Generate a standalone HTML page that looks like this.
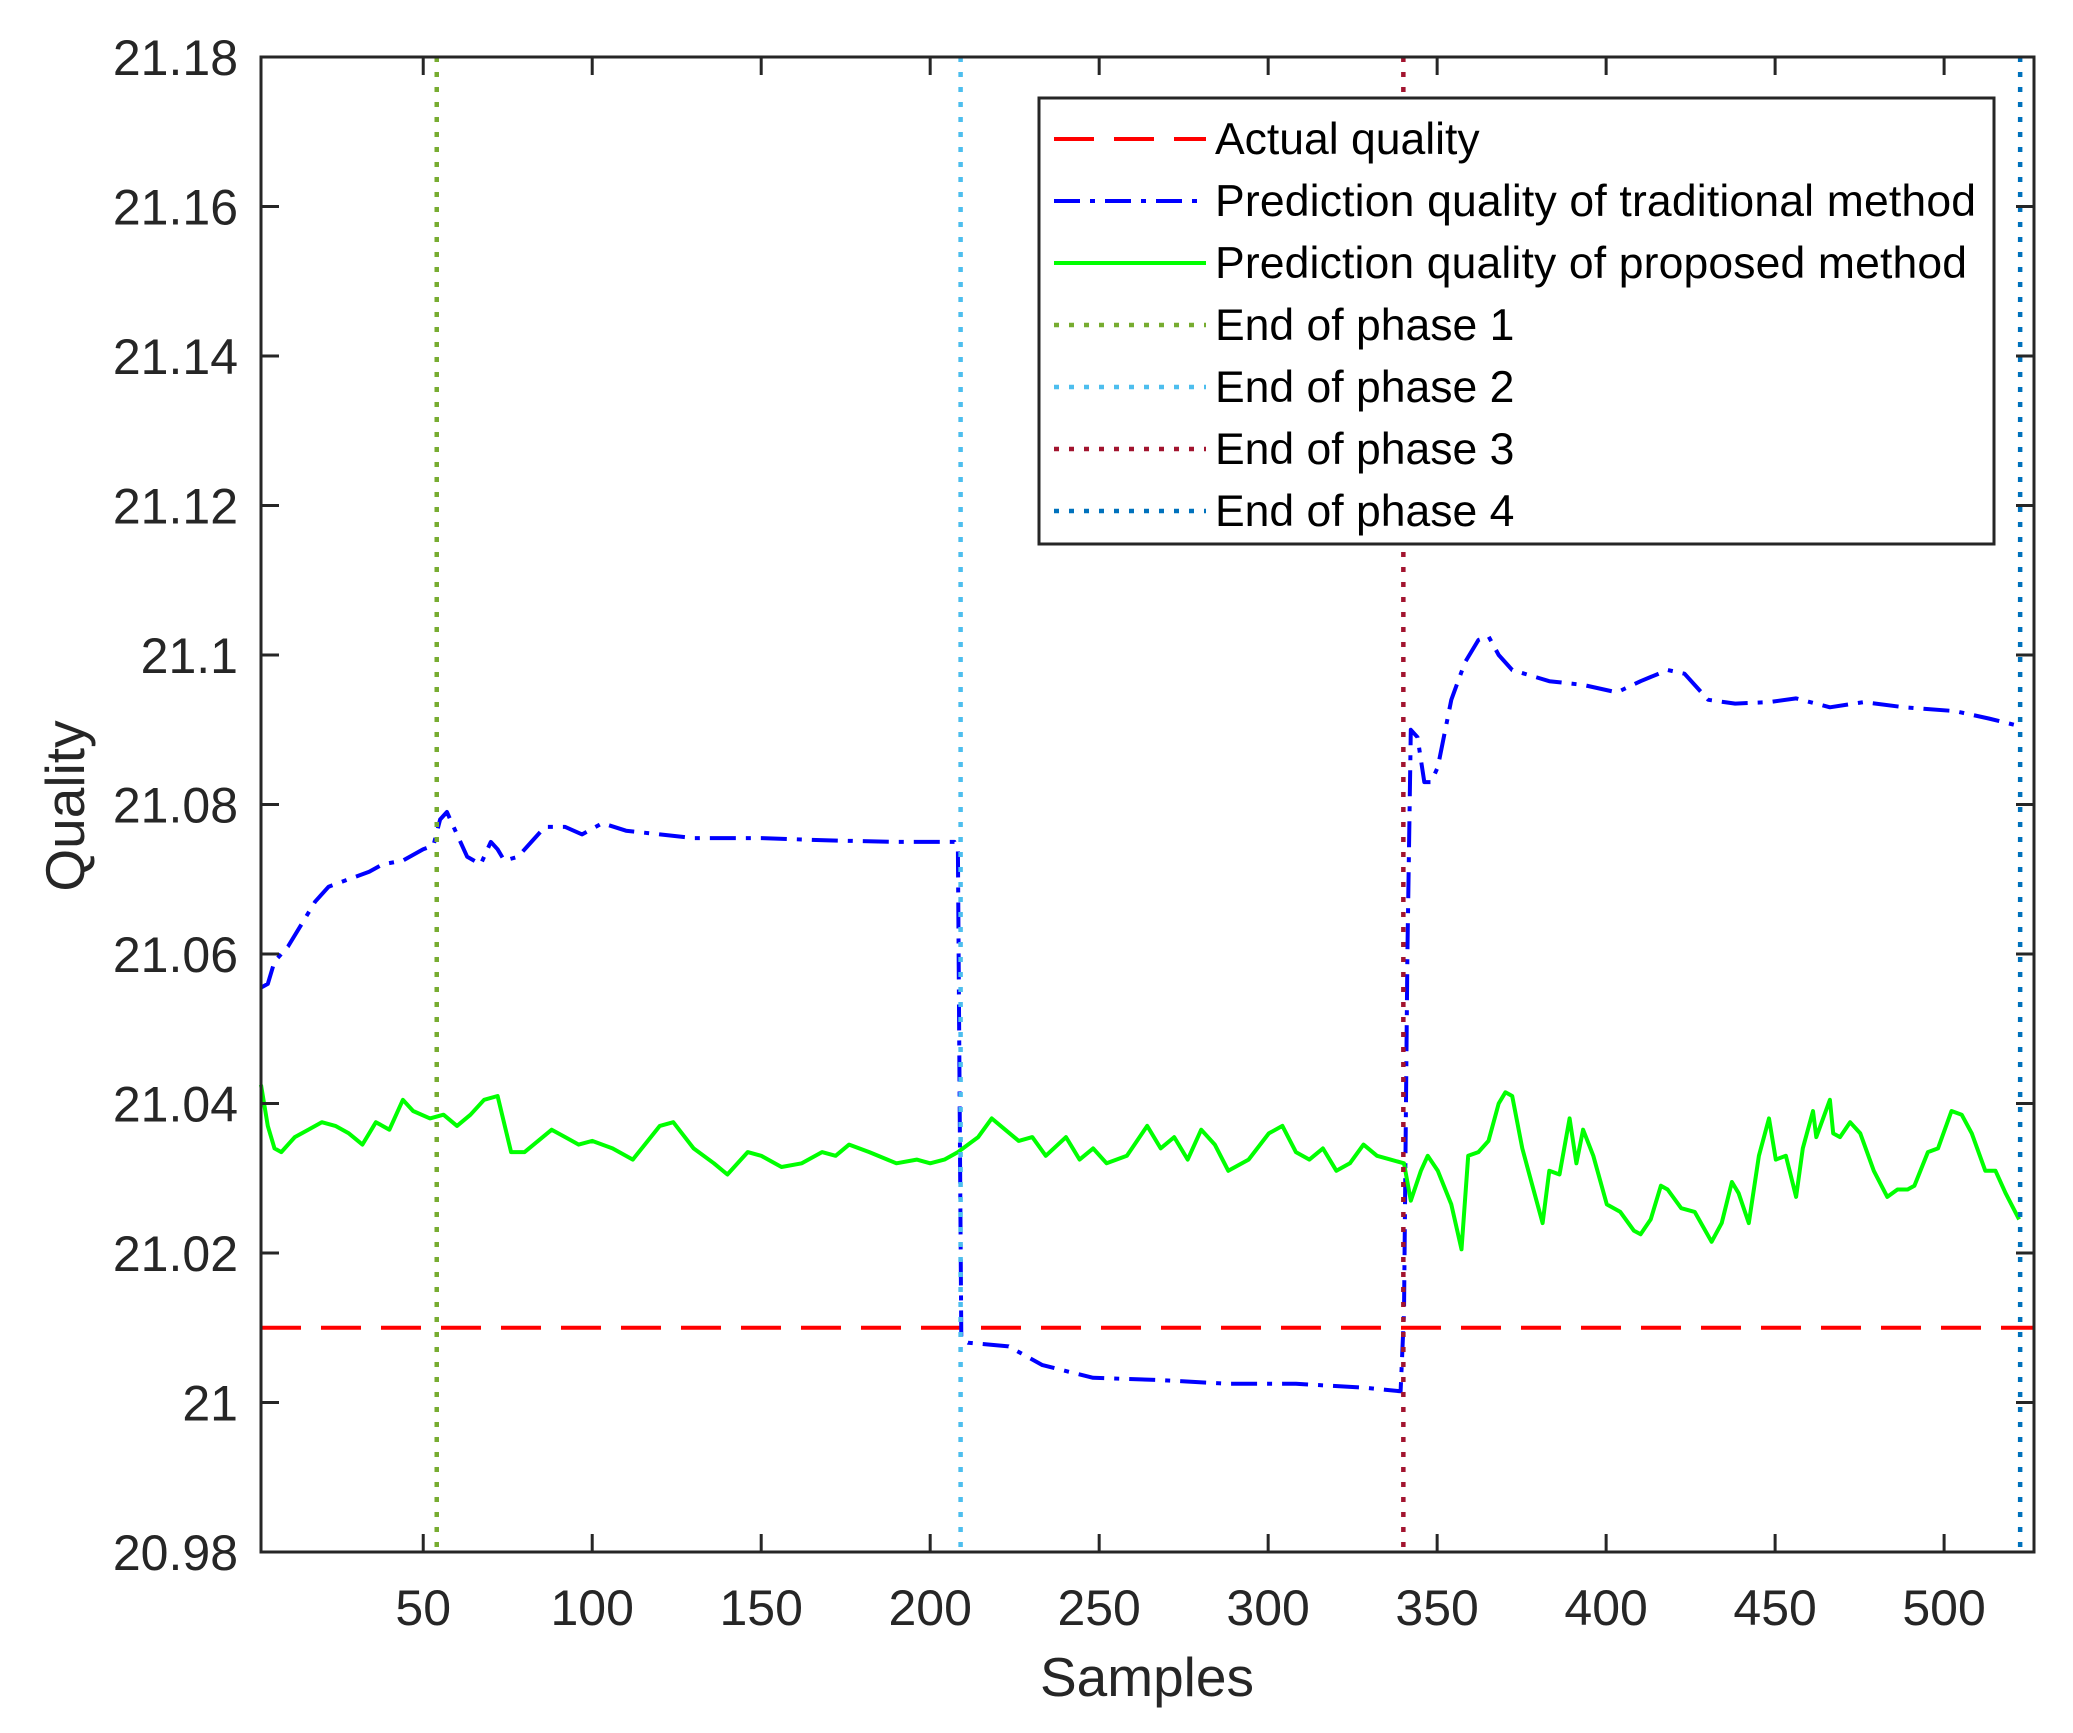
<!DOCTYPE html>
<html><head><meta charset="utf-8"><style>
html,body{margin:0;padding:0;background:#fff}
svg{display:block}
text{font-family:"Liberation Sans",Arial,sans-serif;fill:#262626}
</style></head><body>
<svg id="s" width="2073" height="1733" xmlns="http://www.w3.org/2000/svg">
<rect width="2073" height="1733" fill="#fff"/>
<g id="plot"></g>
<g id="ax"></g>
</svg>
<script>
var L=261,R=2034,T=57,B=1552,XMIN=2,XMAX=526.6,YMIN=20.98,YMAX=21.18;
function X(v){return L+(v-XMIN)/(XMAX-XMIN)*(R-L);}
function Y(v){return B-(v-YMIN)/(YMAX-YMIN)*(B-T);}
var NS="http://www.w3.org/2000/svg";
function el(p,n,a,t){var e=document.createElementNS(NS,n);for(var k in a)e.setAttribute(k,a[k]);if(t!=null)e.textContent=t;p.appendChild(e);return e;}
var plot=document.getElementById('plot'),ax=document.getElementById('ax');
function sx(v){return v>205?v-1.8:v;}
function path(d){return d.map(function(p,i){return (i?'L':'M')+X(sx(p[0])).toFixed(1)+','+Y(p[1]).toFixed(1);}).join('');}
var blue=[[2,21.0555],[4,21.056],[6,21.059],[10,21.061],[14,21.064],[18,21.067],[22,21.069],[28,21.070],[34,21.071],[38,21.072],[44,21.0725],[50,21.074],[53,21.0745],[55,21.078],[57,21.079],[60,21.076],[63,21.073],[67,21.072],[70,21.075],[72,21.074],[74,21.0725],[78,21.073],[82,21.075],[86,21.077],[92,21.077],[97,21.076],[103,21.0775],[110,21.0765],[120,21.076],[130,21.0755],[150,21.0755],[170,21.0752],[190,21.075],[209,21.075],[210,21.074],[211,21.0085],[213,21.008],[225,21.0075],[235,21.005],[250,21.0033],[270,21.003],[290,21.0025],[310,21.0025],[330,21.002],[341,21.0015],[342,21.012],[343,21.06],[344,21.09],[346,21.089],[348,21.083],[350,21.083],[352,21.085],[356,21.094],[360,21.099],[364,21.102],[367,21.1025],[370,21.1],[374,21.098],[385,21.0965],[395,21.096],[405,21.095],[412,21.0965],[420,21.098],[425,21.0975],[432,21.094],[440,21.0935],[450,21.0937],[458,21.0942],[468,21.093],[478,21.0937],[490,21.093],[505,21.0925],[515,21.0915],[524,21.0905]];
var green=[[2,21.0425],[4,21.037],[6,21.034],[8,21.0335],[12,21.0355],[16,21.0365],[20,21.0375],[24,21.037],[28,21.036],[32,21.0345],[36,21.0375],[40,21.0365],[44,21.0405],[47,21.039],[52,21.038],[56,21.0385],[60,21.037],[64,21.0385],[68,21.0405],[72,21.041],[76,21.0335],[80,21.0335],[84,21.035],[88,21.0365],[92,21.0355],[96,21.0345],[100,21.035],[106,21.034],[112,21.0325],[120,21.037],[124,21.0375],[130,21.034],[136,21.032],[140,21.0305],[146,21.0335],[150,21.033],[156,21.0315],[162,21.032],[168,21.0335],[172,21.033],[176,21.0345],[182,21.0335],[190,21.032],[196,21.0325],[200,21.032],[206,21.0325],[210,21.0335],[216,21.0355],[220,21.038],[224,21.0365],[228,21.035],[232,21.0355],[236,21.033],[242,21.0355],[246,21.0325],[250,21.034],[254,21.032],[260,21.033],[266,21.037],[270,21.034],[274,21.0355],[278,21.0325],[282,21.0365],[286,21.0345],[290,21.031],[296,21.0325],[302,21.036],[306,21.037],[310,21.0335],[314,21.0325],[318,21.034],[322,21.031],[326,21.032],[330,21.0345],[334,21.033],[338,21.0325],[342,21.032],[344,21.027],[347,21.031],[349,21.033],[352,21.031],[356,21.0265],[359,21.0205],[361,21.033],[364,21.0335],[367,21.035],[370,21.04],[372,21.0415],[374,21.041],[377,21.034],[380,21.029],[383,21.024],[385,21.031],[388,21.0305],[391,21.038],[393,21.032],[395,21.0365],[398,21.033],[402,21.0265],[406,21.0255],[410,21.023],[412,21.0225],[415,21.0245],[418,21.029],[420,21.0285],[424,21.026],[428,21.0255],[433,21.0215],[436,21.024],[439,21.0295],[441,21.028],[444,21.024],[447,21.033],[450,21.038],[452,21.0325],[455,21.033],[458,21.0275],[460,21.034],[463,21.039],[464,21.0355],[468,21.0405],[469,21.036],[471,21.0355],[474,21.0375],[477,21.036],[481,21.031],[485,21.0275],[488,21.0285],[491,21.0285],[493,21.029],[497,21.0335],[500,21.034],[504,21.039],[507,21.0385],[510,21.036],[514,21.031],[517,21.031],[520,21.028],[524,21.0245]];
el(plot,'line',{x1:L,x2:R,y1:Y(21.01),y2:Y(21.01),stroke:'#ff0000','stroke-width':4,'stroke-dasharray':'40,20'});
el(plot,'path',{d:path(blue),fill:'none',stroke:'#0000ff','stroke-width':4,'stroke-dasharray':'26,10,5,10','stroke-linejoin':'round'});
el(plot,'path',{d:path(green),fill:'none',stroke:'#00ff00','stroke-width':4,'stroke-linejoin':'round'});
var ph=[[54,'#77AC30'],[209,'#4DBEEE'],[340,'#A2142F'],[522.5,'#0072BD']];
ph.forEach(function(p){el(plot,'line',{x1:X(p[0]),x2:X(p[0]),y1:T,y2:B,stroke:p[1],'stroke-width':4.5,'stroke-dasharray':'5,10'});});
el(ax,'rect',{x:L,y:T,width:R-L,height:B-T,fill:'none',stroke:'#262626','stroke-width':3});
for(var v=50;v<=500;v+=50){var x=X(v);
 el(ax,'line',{x1:x,x2:x,y1:B,y2:B-18,stroke:'#262626','stroke-width':3});
 el(ax,'line',{x1:x,x2:x,y1:T,y2:T+18,stroke:'#262626','stroke-width':3});
 el(ax,'text',{x:x,y:B+73,'font-size':50,'text-anchor':'middle'},String(v));}
var yl=['20.98','21','21.02','21.04','21.06','21.08','21.1','21.12','21.14','21.16','21.18'];
yl.forEach(function(s,i){var y=Y(20.98+0.02*i);
 el(ax,'line',{x1:L,x2:L+18,y1:y,y2:y,stroke:'#262626','stroke-width':3});
 el(ax,'line',{x1:R,x2:R-18,y1:y,y2:y,stroke:'#262626','stroke-width':3});
 el(ax,'text',{x:238,y:y+18,'font-size':50,'text-anchor':'end'},s);});
el(ax,'text',{x:1147,y:1696,'font-size':55,'text-anchor':'middle'},'Samples');
el(ax,'text',{x:0,y:0,'font-size':55,'text-anchor':'middle',transform:'translate(84,806) rotate(-90)'},'Quality');
el(ax,'rect',{x:1039,y:98,width:955,height:446,fill:'#fff',stroke:'#262626','stroke-width':3});
var items=[['Actual quality','#ff0000','40,20'],['Prediction quality of traditional method','#0000ff','26,10,5,10'],['Prediction quality of proposed method','#00ff00',''],['End of phase 1','#77AC30','5,10'],['End of phase 2','#4DBEEE','5,10'],['End of phase 3','#A2142F','5,10'],['End of phase 4','#0072BD','5,10']];
items.forEach(function(it,i){var y=139+i*62;
 var a={x1:1054,x2:1206,y1:y,y2:y,stroke:it[1],'stroke-width':it[2]=='5,10'?4.5:4};if(it[2])a['stroke-dasharray']=it[2];
 el(ax,'line',a);
 var ta={x:1215,y:y+15,'font-size':44.5};
 if(i==1){ta.textLength=761;} else if(i==2){ta.textLength=752;}
 el(ax,'text',ta,it[0]).style.fill='#000';});
</script>
</body></html>
